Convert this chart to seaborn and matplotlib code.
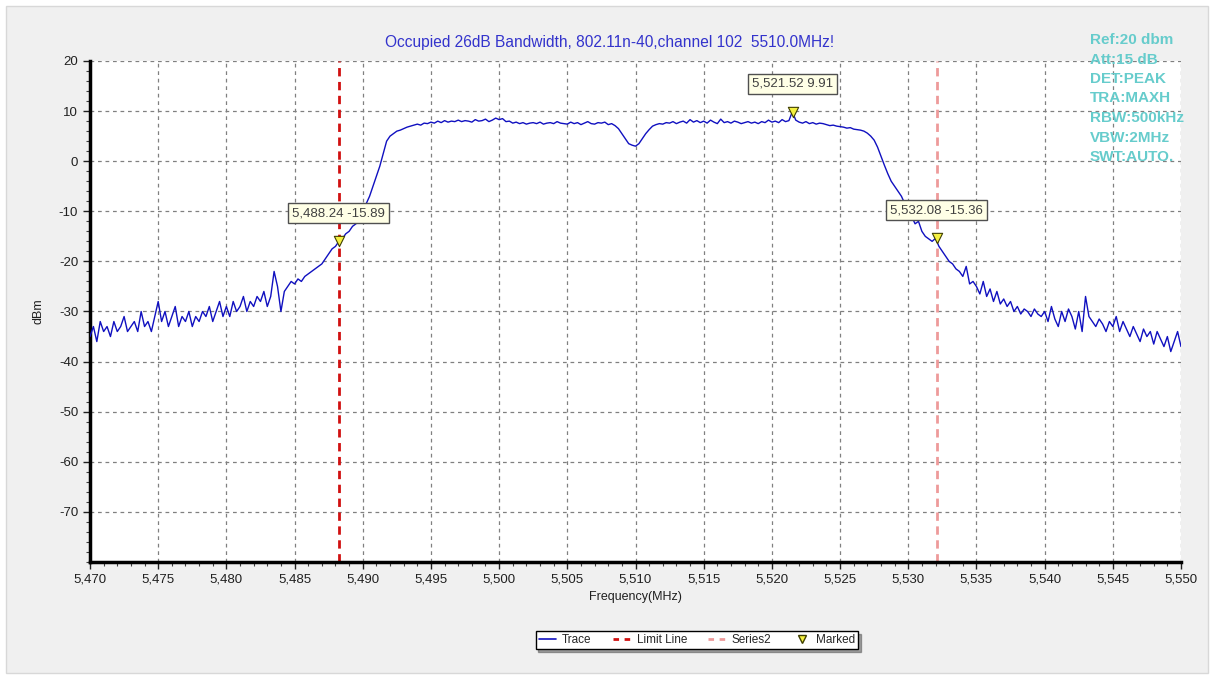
import numpy as np
import pandas as pd
import matplotlib
matplotlib.use("Agg")
import matplotlib.pyplot as plt
from matplotlib.patches import Rectangle
from matplotlib.ticker import FuncFormatter, MultipleLocator
from matplotlib.lines import Line2D
import seaborn as sns

# ---------------- data ----------------
freq_start = 5470.0
freq_step = 0.25
trace_dbm = [
    # 5470.00 - 5474.75
    -35, -33, -36, -32, -34, -33, -35, -32, -34, -33, -31, -34, -33, -32, -34, -30, -33, -32, -34, -31,
    # 5475.00 - 5479.75
    -28, -32, -30, -33, -31, -29, -33, -31, -32, -30, -33, -31, -32, -30, -31, -29, -32, -30, -28, -31,
    # 5480.00 - 5484.75
    -29, -31, -28, -30, -29, -27, -30, -28, -29, -27, -28, -26, -29, -27, -22, -25, -30, -26, -25, -24,
    # 5485.00 - 5489.75
    -24.5, -23.5, -24, -23, -22.5, -22, -21.5, -21, -20.5, -19.5, -18.5, -17.5, -17, -16, -15.5, -14.5, -14, -13, -12.5, -11.5,
    # 5490.00 - 5494.75
    -10, -8.5, -7, -5, -3, -1, 1.5, 4, 5, 5.5, 6, 6.2, 6.5, 6.8, 7, 7.2, 7.4, 7.2, 7.6, 7.5,
    # 5495.00 - 5499.75
    7.8, 7.6, 8, 7.7, 8.1, 7.8, 8, 7.9, 8.2, 7.9, 8.1, 8, 7.8, 8.3, 8, 8.1, 8.4, 7.9, 8.2, 8.6,
    # 5500.00 - 5504.75
    8.3, 8.5, 7.9, 8, 7.6, 7.8, 7.5, 7.7, 7.4, 7.6, 7.7, 7.5, 7.8, 7.4, 7.6, 7.7, 7.5, 7.9, 7.6, 7.5,
    # 5505.00 - 5509.75
    7.4, 7.8, 7.5, 7.7, 7.3, 7.6, 7.9, 7.5, 7.4, 7.7, 7.6, 7.8, 7.3, 7.5, 7.1, 6.5, 5.5, 4.5, 3.5, 3.2,
    # 5510.00 - 5514.75
    3, 3.5, 4.5, 5.5, 6.3, 7, 7.3, 7.5, 7.4, 7.7, 7.6, 7.9, 7.5, 7.8, 8, 7.6, 8.3, 7.8, 8.1, 7.7,
    # 5515.00 - 5519.75
    8, 7.6, 8.2, 7.8, 7.5, 8.4, 7.7, 7.9, 7.6, 8, 7.8, 7.5, 7.7, 7.9, 7.6, 7.8, 7.5, 7.9, 7.7, 8.2,
    # 5520.00 - 5524.75
    7.8, 8, 7.7, 8.3, 7.9, 8.1, 9.9, 8.2, 7.8, 7.6, 7.9, 7.5, 7.7, 7.4, 7.6, 7.5, 7.3, 7.1, 7.2, 7,
    # 5525.00 - 5529.75
    6.9, 6.8, 6.6, 6.7, 6.4, 6.3, 6.2, 6, 5.6, 5, 4.2, 2.8, 1, -0.8, -2.5, -4, -5, -6, -7, -8.5,
    # 5530.00 - 5534.75
    -9.5, -11, -12.5, -12, -14, -15, -15.5, -16, -15.4, -17, -18, -19, -20, -20.5, -21.5, -22, -23, -21, -24.5, -24,
    # 5535.00 - 5539.75
    -25, -26.5, -24, -27, -25.5, -28, -26, -28.5, -27.5, -29, -28, -30, -29, -30.5, -29.5, -30, -31, -29.5, -30.5, -31,
    # 5540.00 - 5544.75
    -30, -32, -29, -31.5, -33, -30, -32, -29.5, -31, -33.5, -30, -34, -27, -31, -32, -33, -31.5, -32.5, -34, -32,
    # 5545.00 - 5549.75
    -33, -31, -34, -32, -33.5, -35, -33, -34.5, -36, -33.5, -35, -34, -36.5, -34, -35.5, -37, -35, -38, -36, -34,
    # 5550.00
    -37,
]
marker_freqs = [5488.24, 5521.52, 5532.08]
marker_levels = [-15.89, 9.91, -15.36]
limit_line_freq = 5488.24
series2_freq = 5532.08
x_ticks = [5470, 5475, 5480, 5485, 5490, 5495, 5500, 5505, 5510, 5515, 5520, 5525, 5530, 5535, 5540, 5545, 5550]
y_ticks = [20, 10, 0, -10, -20, -30, -40, -50, -60, -70]
title_text = "Occupied 26dB Bandwidth, 802.11n-40,channel 102  5510.0MHz!"
info_lines = ["Ref:20 dbm", "Att:15 dB", "DET:PEAK", "TRA:MAXH", "RBW:500kHz", "VBW:2MHz", "SWT:AUTO."]

freqs = [freq_start + i * freq_step for i in range(len(trace_dbm))]
df = pd.DataFrame({"Frequency": freqs, "dBm": trace_dbm})
mk = pd.DataFrame({"Frequency": marker_freqs, "dBm": marker_levels})

# ---------------- figure ----------------
sns.set_style("white")
plt.rcParams["font.family"] = ["Liberation Sans", "DejaVu Sans"]
plt.rcParams["axes.unicode_minus"] = False

W, H = 1216, 679
fig = plt.figure(figsize=(W / 100, H / 100), dpi=100)
fig.patch.set_facecolor("white")
fig.add_artist(Rectangle((6 / W, 6 / H), (1208 - 6) / W, (673 - 6) / H,
                         transform=fig.transFigure, facecolor="#f0f0f0",
                         edgecolor="#d8d8d8", lw=1, zorder=-10))

ax = fig.add_axes([90 / W, 1 - 562 / H, (1181 - 90) / W, (562 - 61) / H])
ax.set_facecolor("white")

sns.lineplot(data=df, x="Frequency", y="dBm", ax=ax, color="#1010c0", lw=1.0,
             label="Trace", zorder=3)
ax.axvline(limit_line_freq, color="#d01010", lw=2.0, ls=(0, (3, 2)), zorder=2, label="Limit Line")
ax.axvline(series2_freq, color="#ee9a9a", lw=2.0, ls=(0, (3, 2)), zorder=2, label="Series2")
sns.scatterplot(data=mk, x="Frequency", y="dBm", ax=ax, marker="v", s=55,
                color="#f4f040", edgecolor="#404000", linewidth=0.8, zorder=5, label="Marked")

for f, v in zip(marker_freqs, marker_levels):
    ax.annotate(f"{f:,.2f} {v:.2f}", xy=(f, v), xytext=(0, 20), textcoords="offset points",
                ha="center", va="center", fontsize=9.5, color="#404040", zorder=6,
                bbox=dict(boxstyle="square,pad=0.3", fc="#ffffe6", ec="#505050", lw=1))

ax.set_xlim(5470, 5550)
ax.set_ylim(-80, 20)
ax.set_xticks(x_ticks)
ax.set_yticks(y_ticks)
ax.xaxis.set_minor_locator(MultipleLocator(1))
ax.yaxis.set_minor_locator(MultipleLocator(2))
ax.xaxis.set_major_formatter(FuncFormatter(lambda x, p: f"{x:,.0f}"))
ax.grid(True, which="major", color="#808080", ls=(0, (3, 3)), lw=0.9)
ax.tick_params(axis="both", which="major", labelsize=9.5, length=5, width=1, direction="out",
               color="#202020", labelcolor="#202020", bottom=True, left=True)
ax.tick_params(axis="both", which="minor", length=3, width=0.8, direction="out",
               color="#404040", bottom=True, left=True)
for s in ["top", "right"]:
    ax.spines[s].set_visible(False)
for s in ["left", "bottom"]:
    ax.spines[s].set_visible(True)
    ax.spines[s].set_color("black")
    ax.spines[s].set_linewidth(2.5)

ax.set_xlabel("Frequency(MHz)", fontsize=9, color="#202020", labelpad=4)
ax.set_ylabel("dBm", fontsize=9, color="#202020", labelpad=10)

fig.text(610 / W, 1 - 42 / H, title_text, ha="center", va="center",
         fontsize=11.2, color="#3333cc")

for i, line in enumerate(info_lines):
    fig.text(1090 / W, 1 - (40 + i * 19.5) / H, line, ha="left", va="center",
             fontsize=11, fontweight="bold", color="#66cccc")

if ax.get_legend():
    ax.get_legend().remove()
handles = [
    Line2D([], [], color="#1010c0", lw=1.2),
    Line2D([], [], color="#d01010", lw=2, ls=(0, (2, 2))),
    Line2D([], [], color="#ee9a9a", lw=2, ls=(0, (2, 2))),
    Line2D([], [], marker="v", color="none", markerfacecolor="#f4f040",
           markeredgecolor="#404000", markersize=6),
]
leg = fig.legend(handles, ["Trace", "Limit Line", "Series2", "Marked"], ncol=4,
                 loc="center", bbox_to_anchor=(697 / W, 1 - 640 / H), fontsize=8.5,
                 frameon=True, fancybox=False, shadow=True, handlelength=1.5,
                 columnspacing=1.8, handletextpad=0.5, borderpad=0.25)
leg.get_frame().set_edgecolor("black")
leg.get_frame().set_linewidth(1)
leg.get_frame().set_facecolor("white")

fig.savefig("out.png", dpi=100, facecolor=fig.get_facecolor())
